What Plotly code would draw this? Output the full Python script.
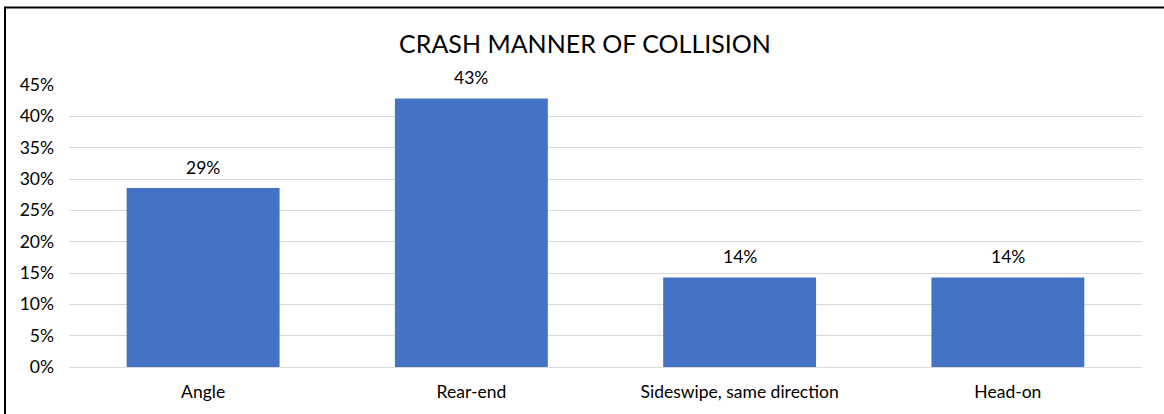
import plotly.graph_objects as go

categories = ["Angle", "Rear-end", "Sideswipe, same direction", "Head-on"]
shares = [2/7, 3/7, 1/7, 1/7]
y_ticks = [0, 0.05, 0.10, 0.15, 0.20, 0.25, 0.30, 0.35, 0.40, 0.45]
y_tick_labels = ["0%", "5%", "10%", "15%", "20%", "25%", "30%", "35%", "40%", "45%"]
title_text = "CRASH MANNER OF COLLISION"

FONT = "Lato, 'Open Sans', sans-serif"
W, H = 1164, 414
L, R, T, B = 69, 22, 85, 45
FS = 17.5

fig = go.Figure(go.Bar(
    x=categories, y=shares, marker=dict(color="#4472C4", line=dict(width=0)),
    hoverinfo="skip",
))

for c, v in zip(categories, shares):
    fig.add_annotation(x=c, y=v, text=f"{round(v*100)}%", showarrow=False,
                       yanchor="bottom", yshift=8,
                       font=dict(family=FONT, size=FS, color="#000000"))

pw, ph = W - L - R, H - T - B
def px(xp):
    return (xp - L) / pw
def py(yp):
    return (H - B - yp) / ph

fig.add_shape(type="rect", xref="paper", yref="paper",
              x0=px(5), x1=px(1172), y0=py(422), y1=py(7),
              line=dict(color="#000000", width=2), layer="above")

fig.update_layout(
    width=W, height=H,
    margin=dict(l=L, r=R, t=T, b=B, pad=0),
    paper_bgcolor="white", plot_bgcolor="white",
    bargap=0.43,
    showlegend=False,
    title=dict(text=title_text, x=585/W, xanchor="center", xref="container",
               y=1-44/H, yanchor="middle", yref="container",
               font=dict(family=FONT, size=25, color="#000000")),
    font=dict(family=FONT, size=FS, color="#000000"),
    xaxis=dict(showgrid=False, showline=False, zeroline=False, ticks="",
               tickfont=dict(family=FONT, size=FS, color="#000000"),
               ticklabelstandoff=12),
    yaxis=dict(range=[0, 0.45], tickvals=y_ticks, ticktext=y_tick_labels,
               showgrid=True, gridcolor="#D9D9D9", gridwidth=1,
               zeroline=True, zerolinecolor="#D9D9D9", zerolinewidth=1,
               showline=False, ticks="",
               tickfont=dict(family=FONT, size=FS, color="#000000"),
               ticklabelstandoff=14),
)

fig.write_html("out.html", config={"displayModeBar": False},
               post_script="document.body.style.margin='0';document.body.style.overflow='hidden';")
